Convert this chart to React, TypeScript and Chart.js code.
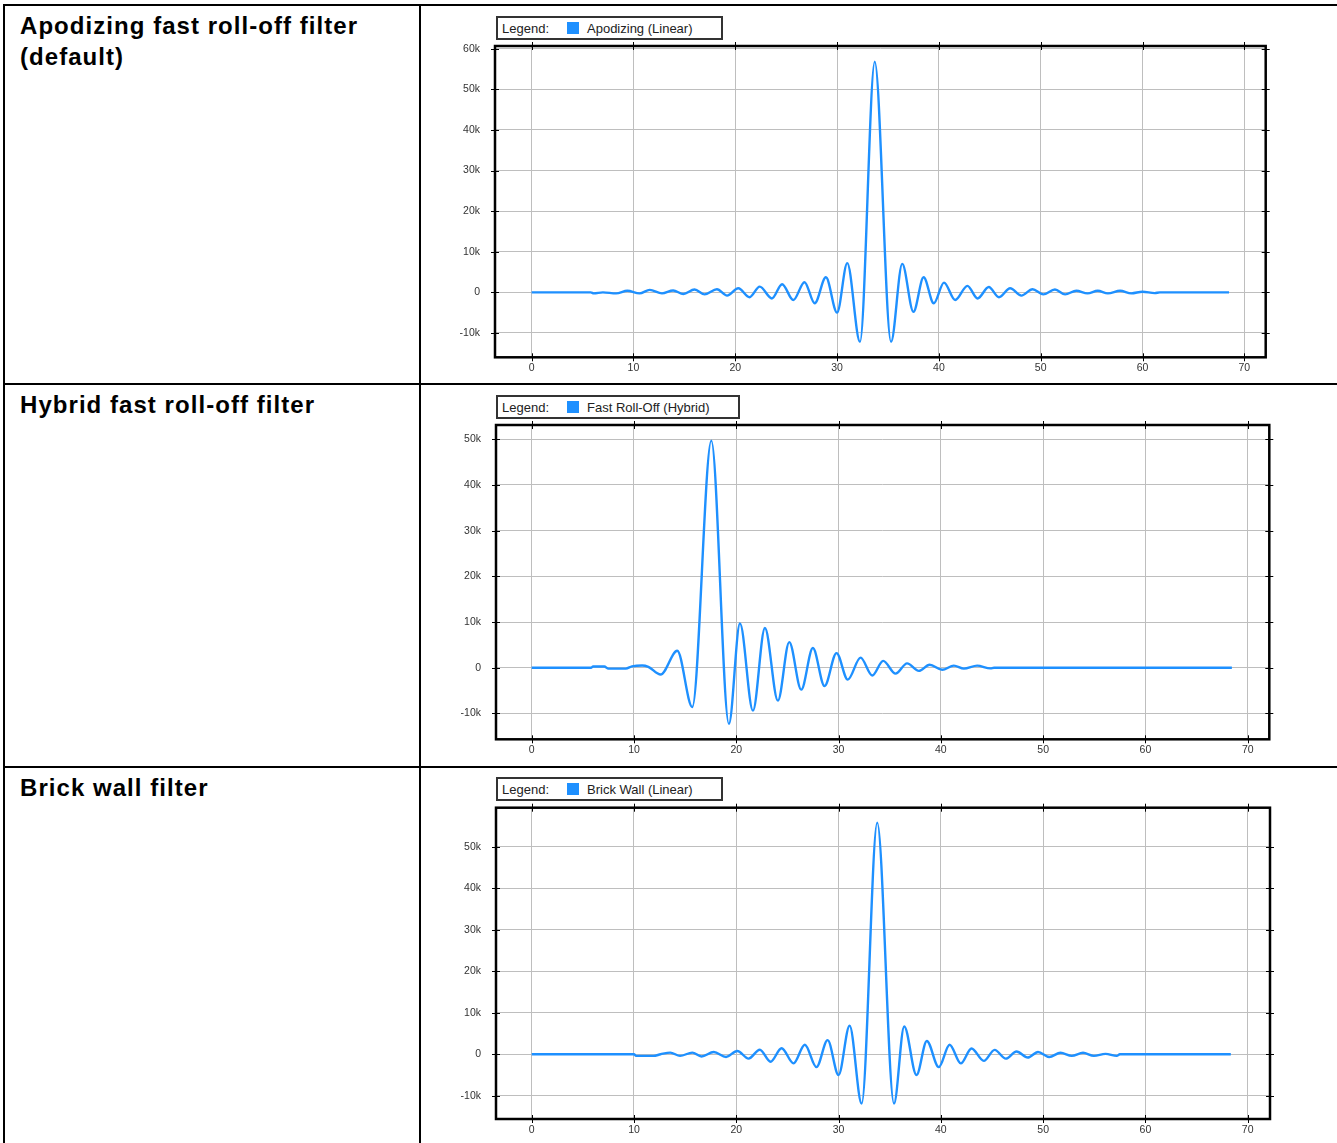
import React, { useEffect, useRef } from "react";
import { Chart, registerables } from "chart.js";

Chart.register(...registerables);
Chart.defaults.font.family = "'Liberation Sans', Arial, sans-serif";

// ---------- shared axis ticks ----------
const xTickValues = [0, 10, 20, 30, 40, 50, 60, 70];
const xTickLabels = ["0", "10", "20", "30", "40", "50", "60", "70"];

const yTickValuesA = [-10000, 0, 10000, 20000, 30000, 40000, 50000, 60000];
const yTickLabelsA = ["-10k", "0", "10k", "20k", "30k", "40k", "50k", "60k"];
const yTickValuesB = [-10000, 0, 10000, 20000, 30000, 40000, 50000];
const yTickLabelsB = ["-10k", "0", "10k", "20k", "30k", "40k", "50k"];

// ---------- row titles / legends ----------
const rowTitles = ["Apodizing fast roll-off filter (default)", "Hybrid fast roll-off filter", "Brick wall filter"];
const seriesNames = ["Apodizing (Linear)", "Fast Roll-Off (Hybrid)", "Brick Wall (Linear)"];

// ---------- series 1: Apodizing ----------
const apodX = [0, 5.8, 6.1, 7.0, 8.3, 9.4, 10.6, 11.6, 12.8, 13.9, 14.9, 16.0, 17.0, 18.2, 19.2, 20.3, 21.4, 22.4, 23.6, 24.6, 25.7, 26.8, 27.8, 28.9, 30.0, 31.0, 32.25, 33.7, 35.3, 36.4, 37.5, 38.5, 39.5, 40.5, 41.6, 42.8, 43.8, 44.9, 45.9, 47.0, 48.1, 49.2, 50.25, 51.4, 52.4, 53.5, 54.6, 55.6, 56.6, 57.8, 58.9, 60.0, 61.2, 61.7, 68.5];
const apodY = [0, 0, -250, 0, -250, 400, -250, 600, -250, 450, -400, 700, -500, 750, -800, 1000, -1200, 1400, -1500, 2000, -1900, 2500, -2700, 3700, -5000, 7200, -12200, 56800, -12200, 7000, -4800, 3700, -2700, 2400, -1900, 1600, -1500, 1300, -1200, 1000, -800, 750, -500, 700, -500, 400, -250, 400, -250, 400, -250, 150, -200, 0, 0];

// ---------- series 2: Hybrid ----------
const hybX = [0, 5.8, 6.0, 7.1, 7.5, 9.2, 9.8, 10.8, 11.4, 12.6, 14.23, 15.7, 17.56, 19.28, 20.36, 21.63, 22.8, 24.07, 25.18, 26.35, 27.49, 28.63, 29.8, 30.9, 32.15, 33.29, 34.36, 35.57, 36.7, 37.85, 38.9, 40.13, 41.27, 42.25, 43.55, 44.85, 45.2, 68.45];
const hybY = [0, 0, 250, 250, -200, -200, 300, 500, 200, -1500, 3700, -8600, 49700, -12300, 9700, -9400, 8700, -7200, 5600, -4800, 4300, -4000, 3200, -2600, 2200, -1700, 1500, -1300, 950, -700, 650, -450, 450, -200, 450, -150, 0, 0];

// ---------- series 3: Brick wall ----------
const brickX = [0, 10.0, 10.2, 11.9, 12.6, 13.55, 14.5, 15.7, 16.6, 17.8, 19.0, 20.1, 21.2, 22.3, 23.35, 24.43, 25.6, 26.7, 27.84, 28.93, 30.0, 31.08, 32.26, 33.78, 35.42, 36.42, 37.62, 38.63, 39.8, 40.86, 41.95, 43.0, 44.2, 45.26, 46.35, 47.4, 48.5, 49.5, 50.6, 51.7, 52.8, 53.9, 54.96, 56.1, 57.2, 57.5, 68.35];
const brickY = [0, 0, -400, -400, 0, 400, -400, 400, -550, 550, -650, 800, -1050, 1100, -1800, 1450, -2200, 2300, -3100, 3400, -5000, 6850, -11900, 55800, -11900, 6700, -5000, 3200, -3100, 2300, -2200, 1400, -1600, 1050, -1050, 650, -800, 550, -650, 350, -400, 350, -400, 100, -400, 0, 0];

const LINE_COLOR = "#1E90FF";

const framePlugin = {
  id: "frameTicks",
  afterDraw(chart: any) {
    const { ctx, chartArea: a, scales } = chart;
    ctx.save();
    ctx.strokeStyle = "#000";
    ctx.lineWidth = 1;
    ctx.beginPath();
    for (const t of scales.x.ticks) {
      const px = Math.round(scales.x.getPixelForValue(t.value)) + 0.5;
      ctx.moveTo(px, a.top - 4);
      ctx.lineTo(px, a.top + 4);
      ctx.moveTo(px, a.bottom - 4);
      ctx.lineTo(px, a.bottom + 4);
    }
    for (const t of scales.y.ticks) {
      const py = Math.round(scales.y.getPixelForValue(t.value)) + 0.5;
      ctx.moveTo(a.left - 4, py);
      ctx.lineTo(a.left + 4, py);
      ctx.moveTo(a.right - 4, py);
      ctx.lineTo(a.right + 4, py);
    }
    ctx.stroke();
    ctx.lineWidth = 2.5;
    ctx.strokeRect(a.left, a.top, a.right - a.left, a.bottom - a.top);
    ctx.restore();
  },
};

type PanelProps = {
  canvasTop: number;
  canvasHeight: number;
  box: { left: number; right: number; top: number; bottom: number };
  xs: number[];
  ys: number[];
  xMin: number;
  xMax: number;
  yMin: number;
  yMax: number;
  yTicks: number[];
  yLabels: string[];
  legendTop: number;
  legendText: string;
};

const CANVAS_LEFT = 422;
const CANVAS_WIDTH = 1337 - CANVAS_LEFT;
const X_AXIS_H = 24;

function Panel(p: PanelProps) {
  const ref = useRef<HTMLCanvasElement | null>(null);
  useEffect(() => {
    if (!ref.current) return;
    const yW = p.box.left - CANVAS_LEFT;
    const padR = CANVAS_LEFT + CANVAS_WIDTH - p.box.right;
    const padT = p.box.top - p.canvasTop;
    const padB = p.canvasTop + p.canvasHeight - p.box.bottom - X_AXIS_H;
    const chart = new Chart(ref.current, {
      type: "line",
      data: {
        datasets: [
          {
            data: p.xs.map((x, i) => ({ x, y: p.ys[i] })),
            borderColor: LINE_COLOR,
            backgroundColor: LINE_COLOR,
            borderWidth: 2.4,
            pointRadius: 0,
            cubicInterpolationMode: "monotone",
            fill: false,
          },
        ],
      },
      options: {
        responsive: false,
        animation: false,
        devicePixelRatio: 1,
        events: [],
        layout: { padding: { left: 0, right: padR, top: padT, bottom: Math.max(0, padB) } },
        plugins: { legend: { display: false }, tooltip: { enabled: false } },
        scales: {
          x: {
            type: "linear",
            min: p.xMin,
            max: p.xMax,
            afterBuildTicks: (s: any) => {
              s.ticks = xTickValues.map((v) => ({ value: v }));
            },
            afterFit: (s: any) => {
              s.height = X_AXIS_H;
            },
            grid: { color: "#bebebe", lineWidth: 1, drawTicks: false },
            border: { display: false },
            ticks: {
              autoSkip: false,
              maxRotation: 0,
              padding: 5,
              color: "#333",
              font: { size: 10.5 },
              callback: (_v: any, i: number) => xTickLabels[i],
            },
          },
          y: {
            type: "linear",
            min: p.yMin,
            max: p.yMax,
            afterBuildTicks: (s: any) => {
              s.ticks = p.yTicks.map((v) => ({ value: v }));
            },
            afterFit: (s: any) => {
              s.width = yW;
            },
            grid: { color: "#bebebe", lineWidth: 1, drawTicks: false },
            border: { display: false },
            ticks: {
              autoSkip: false,
              padding: 15,
              color: "#333",
              font: { size: 10.5 },
              callback: (_v: any, i: number) => p.yLabels[i],
            },
          },
        },
      },
      plugins: [framePlugin],
    } as any);
    return () => chart.destroy();
  }, []);
  return (
    <>
      <canvas
        ref={ref}
        width={CANVAS_WIDTH}
        height={p.canvasHeight}
        style={{ position: "absolute", left: CANVAS_LEFT, top: p.canvasTop, width: CANVAS_WIDTH, height: p.canvasHeight }}
      />
      <div
        style={{
          position: "absolute",
          left: 496,
          top: p.legendTop,
          height: 20,
          boxSizing: "content-box",
          border: "2px solid #333",
          display: "flex",
          alignItems: "center",
          paddingLeft: 4,
          paddingRight: 28,
          font: "13px 'Liberation Sans', Arial, sans-serif",
          color: "#222",
          background: "#fff",
          whiteSpace: "nowrap",
        }}
      >
        <span>Legend:</span>
        <span style={{ display: "inline-block", width: 12, height: 12, background: LINE_COLOR, marginLeft: 18, marginRight: 8 }} />
        <span>{p.legendText}</span>
      </div>
    </>
  );
}

const titleStyle: React.CSSProperties = {
  position: "absolute",
  left: 20,
  width: 390,
  font: "bold 24px 'Liberation Sans', Arial, sans-serif",
  lineHeight: "31px",
  letterSpacing: "1.05px",
  color: "#000",
};

const lineStyle = (l: number, t: number, w: number, h: number): React.CSSProperties => ({
  position: "absolute",
  left: l,
  top: t,
  width: w,
  height: h,
  background: "#000",
});

export default function App() {
  return (
    <div style={{ position: "absolute", left: 0, top: 0, width: 1337, height: 1143, background: "#fff", overflow: "hidden" }}>
      {/* table lines */}
      <div style={lineStyle(3, 4, 1334, 2)} />
      <div style={lineStyle(3, 383, 1334, 2)} />
      <div style={lineStyle(3, 766, 1334, 2)} />
      <div style={lineStyle(3, 4, 2, 1139)} />
      <div style={lineStyle(419, 4, 2, 1139)} />

      <div style={{ ...titleStyle, top: 9.5 }}>
        Apodizing fast roll-off filter
        <br />
        (default)
      </div>
      <div style={{ ...titleStyle, top: 388.5 }}>{rowTitles[1]}</div>
      <div style={{ ...titleStyle, top: 771.5 }}>{rowTitles[2]}</div>

      <Panel
        canvasTop={7}
        canvasHeight={376}
        box={{ left: 495, right: 1265.7, top: 46, bottom: 357.3 }}
        xs={apodX}
        ys={apodY}
        xMin={-3.6}
        xMax={72.1}
        yMin={-16000}
        yMax={60670}
        yTicks={yTickValuesA}
        yLabels={yTickLabelsA}
        legendTop={16}
        legendText={seriesNames[0]}
      />
      <Panel
        canvasTop={386}
        canvasHeight={380}
        box={{ left: 496, right: 1269.3, top: 425, bottom: 739.3 }}
        xs={hybX}
        ys={hybY}
        xMin={-3.49}
        xMax={72.11}
        yMin={-15670}
        yMax={53130}
        yTicks={yTickValuesB}
        yLabels={yTickLabelsB}
        legendTop={395}
        legendText={seriesNames[1]}
      />
      <Panel
        canvasTop={769}
        canvasHeight={374}
        box={{ left: 496, right: 1270, top: 807.7, bottom: 1119 }}
        xs={brickX}
        ys={brickY}
        xMin={-3.49}
        xMax={72.18}
        yMin={-15600}
        yMax={59400}
        yTicks={yTickValuesB}
        yLabels={yTickLabelsB}
        legendTop={777}
        legendText={seriesNames[2]}
      />
    </div>
  );
}
